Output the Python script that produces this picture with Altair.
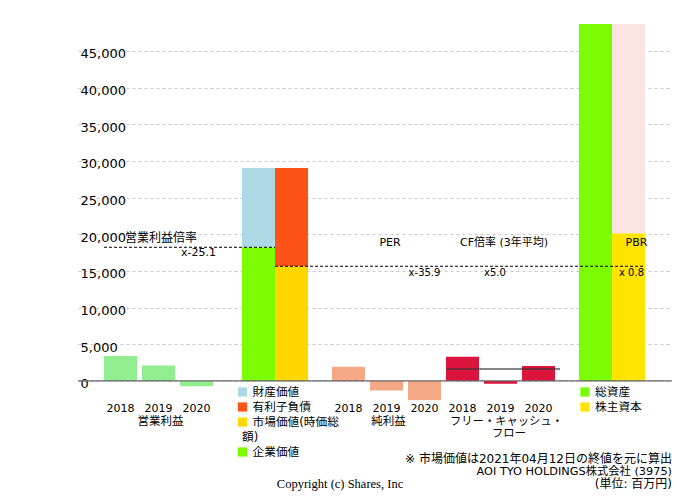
import altair as alt
import pandas as pd

# ---------------- data ----------------
years = ["2018", "2019", "2020"]
op_profit = [3400, 2090, -730]          # 営業利益
net_income = [1950, -1320, -2590]       # 純利益
fcf = [3310, -370, 2045]                # フリー・キャッシュ・フロー
fcf_avg = 1636

enterprise_value = 18230                # 企業価値
asset_value = 10820                     # 財産価値
debt = 13410                            # 有利子負債
market_cap = 15640                      # 市場価値(時価総額)
total_assets = 52000                    # 総資産 (clipped at top)
equity = 20140                          # 株主資本

group_labels = ["営業利益", "純利益", ["フリー・キャッシュ・", "フロー"]]
ev_legend = ["財産価値", "有利子負債", ["市場価値(時価総", "額)"], "企業価値"]
ta_legend = ["総資産", "株主資本"]
multiple_titles = ["営業利益倍率", "PER", "CF倍率 (3年平均)", "PBR"]
multiple_values = ["x-25.1", "x-35.9", "x5.0", "x 0.8"]
y_ticks = [0, 5000, 10000, 15000, 20000, 25000, 30000, 35000, 40000, 45000]
notes = ["※ 市場価値は2021年04月12日の終値を元に算出",
         "AOI TYO HOLDINGS株式会社 (3975)",
         "(単位: 百万円)"]
copyright_text = "Copyright (c) Shares, Inc"

# ---------------- colours ----------------
C_OP = "#90EE90"
C_EV = "#7CFC00"
C_ASSET = "#ADD8E6"
C_DEBT = "#FB5416"
C_MCAP = "#FFD700"
C_NI = "#F4A886"
C_FCF = "#DC143C"
C_TA = "#7CFC00"
C_EQ = "#FFE400"
C_LIAB = "#FAE3E1"

FONT = "DejaVu Sans, Noto Sans CJK JP, sans-serif"

# ---------------- layout (slot units) ----------------
BW = 33 / 38
G_OP, G_EV, G_NI, G_FCF, G_TA = 0.0, 3.632, 6.0, 9.0, 12.5
XDOM = [-26 / 38, 568 / 38]
YDOM = [-2600, 48680]
W, H = 594, 376

rows = []
for i, v in enumerate(op_profit):
    rows.append(dict(x=G_OP + i, x2=G_OP + i + BW, y=0, y2=v, color=C_OP))
for i, v in enumerate(net_income):
    rows.append(dict(x=G_NI + i, x2=G_NI + i + BW, y=0, y2=v, color=C_NI))
for i, v in enumerate(fcf):
    rows.append(dict(x=G_FCF + i, x2=G_FCF + i + BW, y=0, y2=v, color=C_FCF))
rows += [
    dict(x=G_EV, x2=G_EV + BW, y=0, y2=enterprise_value, color=C_EV),
    dict(x=G_EV, x2=G_EV + BW, y=enterprise_value, y2=enterprise_value + asset_value, color=C_ASSET),
    dict(x=G_EV + BW, x2=G_EV + 2 * BW, y=0, y2=market_cap, color=C_MCAP),
    dict(x=G_EV + BW, x2=G_EV + 2 * BW, y=market_cap, y2=market_cap + debt, color=C_DEBT),
    dict(x=G_TA, x2=G_TA + BW, y=0, y2=total_assets, color=C_TA),
    dict(x=G_TA + BW, x2=G_TA + 2 * BW, y=0, y2=equity, color=C_EQ),
    dict(x=G_TA + BW, x2=G_TA + 2 * BW, y=equity, y2=total_assets, color=C_LIAB),
]
bars_df = pd.DataFrame(rows)

xs = alt.Scale(domain=XDOM, nice=False, zero=False)
ys = alt.Scale(domain=YDOM, nice=False, zero=False)

bars = alt.Chart(bars_df).mark_bar(clip=True).encode(
    x=alt.X("x:Q", scale=xs, axis=None),
    x2="x2:Q",
    y=alt.Y("y:Q", scale=ys, axis=alt.Axis(
        values=y_ticks, format=",.0f", labelAlign="left", labelPadding=-2, ticks=False,
        domain=False, grid=True, gridDash=[3, 3], gridColor="#c8c8c8",
        labelFontSize=13, labelColor="black", title=None, labelOffset=3,
        labelFont="DejaVu Sans")),
    y2="y2:Q",
    color=alt.Color("color:N", scale=None),
)

layers = [bars]

# zero line
layers.append(alt.Chart().mark_rule(color="#666666", strokeWidth=1.3).encode(y=alt.datum(0)))

# dashed reference lines
layers.append(alt.Chart().mark_rule(color="black", strokeDash=[3, 2], strokeWidth=1).encode(
    x=alt.datum(G_OP), x2=alt.datum(G_EV + BW), y=alt.datum(enterprise_value)))
layers.append(alt.Chart().mark_rule(color="black", strokeDash=[3, 2], strokeWidth=1).encode(
    x=alt.datum(G_EV + BW), x2=alt.datum(G_TA + 2 * BW), y=alt.datum(market_cap)))

# FCF average line
layers.append(alt.Chart().mark_rule(color="#333333", opacity=0.6, strokeWidth=2).encode(
    x=alt.datum(G_FCF), x2=alt.datum(G_FCF + 3), y=alt.datum(fcf_avg)))

def txt(text, xv, yv, dx=0, dy=0, size=11, align="center", font=FONT):
    return alt.Chart().mark_text(text=text, dx=dx, dy=dy, fontSize=size, align=align,
                                 baseline="middle", font=font, color="black").encode(
        x=alt.datum(xv), y=yv)

# multiple annotations
op_c = G_OP + (2 + BW) / 2
ni_c = G_NI + (2 + BW) / 2
fcf_c = G_FCF + (2 + BW) / 2
eq_c = G_TA + BW + BW / 2
layers.append(txt(multiple_titles[0], op_c, alt.datum(enterprise_value), dx=2.5, dy=-9, size=12))
layers.append(txt(multiple_values[0], G_OP + 2 + BW / 2, alt.datum(enterprise_value), dx=2, dy=5.5, size=11))
layers.append(txt(multiple_titles[1], ni_c, alt.datum(market_cap), dx=3.5, dy=-23.6, size=11))
layers.append(txt(multiple_values[1], G_NI + 2 + BW / 2, alt.datum(market_cap), dy=6.4, size=10))
layers.append(txt(multiple_titles[2], fcf_c, alt.datum(market_cap), dx=3.5, dy=-23.6, size=11))
layers.append(txt(multiple_values[2], fcf_c, alt.datum(market_cap), dx=-5.5, dy=6.4, size=10))
layers.append(txt(multiple_titles[3], eq_c, alt.datum(market_cap), dx=8, dy=-23.6, size=11))
layers.append(txt(multiple_values[3], eq_c, alt.datum(market_cap), dx=3, dy=6.4, size=10))

# year tick labels
for g in (G_OP, G_NI, G_FCF):
    for i, yr in enumerate(years):
        layers.append(txt(yr, g + i + BW / 2, alt.value(384.5), size=11, font="DejaVu Sans"))

# group labels
layers.append(txt(group_labels[0], op_c, alt.value(397.5), dx=2, size=11.5))
layers.append(txt(group_labels[1], ni_c, alt.value(397.5), dx=2, size=11.5))
layers.append(txt(group_labels[2][0], fcf_c, alt.value(397.5), dx=6, size=11.3))
layers.append(txt(group_labels[2][1], fcf_c, alt.value(409.5), dx=8.5, size=11.3))

# legends
def swatch(color, xv, ypx, xoff):
    return alt.Chart().mark_square(size=85, color=color, opacity=1, xOffset=xoff).encode(
        x=alt.datum(xv), y=alt.value(ypx))

ev_cols = [C_ASSET, C_DEBT, C_MCAP, C_EV]
ev_rows = [368, 383, 398, 428]
for lab, col, yp in zip(ev_legend, ev_cols, ev_rows):
    layers.append(swatch(col, G_EV, yp, 0.5))
    if isinstance(lab, list):
        layers.append(txt(lab[0], G_EV, alt.value(yp), dx=10.5, size=11.7, align="left"))
        layers.append(txt(lab[1], G_EV, alt.value(yp + 15), dx=0, size=11.7, align="left"))
    else:
        layers.append(txt(lab, G_EV, alt.value(yp), dx=10.5, size=11.7, align="left"))

for lab, col, yp in zip(ta_legend, [C_TA, C_EQ], [368, 383]):
    layers.append(swatch(col, G_TA, yp, 6))
    layers.append(txt(lab, G_TA, alt.value(yp), dx=16, size=11.7, align="left"))

# footer notes
def ftxt(text, xpx, ypx, size, align, font=FONT):
    return alt.Chart().mark_text(text=text, fontSize=size, align=align, baseline="middle",
                                 font=font, color="black").encode(x=alt.value(xpx), y=alt.value(ypx))

layers.append(ftxt(notes[0], 594, 435, 12, "right"))
layers.append(ftxt(notes[1], 594, 448, 11.3, "right"))
layers.append(ftxt(notes[2], 594, 460, 12, "right"))
layers.append(ftxt(copyright_text, 262, 460, 12.5, "center", font="Liberation Serif, Times New Roman, serif"))

chart = alt.layer(*layers).properties(
    width=W, height=H,
    padding={"left": 70, "top": 16, "right": 0, "bottom": 92},
    autosize="none",
).configure(font=FONT).configure_view(strokeWidth=0)

chart.save("out.html", embed_options={"renderer": "svg", "actions": False})
